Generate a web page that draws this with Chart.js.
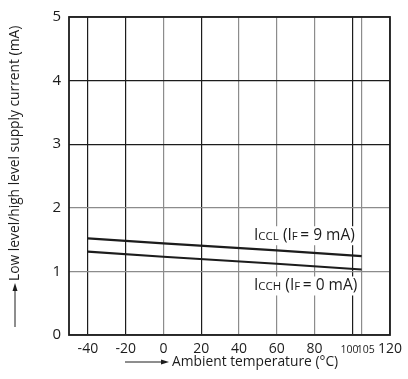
<!DOCTYPE html>
<html><head><meta charset="utf-8">
<script src="https://cdn.jsdelivr.net/npm/chart.js@4"></script>
<style>html,body{margin:0;padding:0;background:#fff}canvas{display:block}</style>
</head><body>
<canvas id="c" width="408" height="379"></canvas>
<script>
// ---- data ----
const temperatures = [-40, 0, 60, 105];          // °C
const iccl = [1.52, 1.44, 1.33, 1.24];           // mA, IF = 9 mA
const icch = [1.31, 1.23, 1.12, 1.03];           // mA, IF = 0 mA
const xTickValues = [-40, -20, 0, 20, 40, 60, 80, 100, 105, 120];
const yTickValues = [0, 1, 2, 3, 4, 5];
const xAxisTitle = 'Ambient temperature (°C)';
const yAxisTitle = 'Low level/high level supply current (mA)';
const curveLabels = [
  {sub: 'CCL', cond: '9', at: [48, 1.49]},
  {sub: 'CCH', cond: '0', at: [48, 0.70]}
];

const FONT = '"Open Sans"';
const BLACK = '#1c1c1c', GREY = '#8c8c8c';
const darkX = [-40, -20, 20, 100];
const darkY = [3, 4];

const toPts = (xs, ys) => xs.map((x, i) => ({x, y: ys[i]}));

const framePlugin = {
  id: 'frame',
  afterDatasetsDraw(chart) {
    const {ctx, chartArea: a, scales} = chart;
    ctx.save();
    ctx.strokeStyle = BLACK; ctx.lineWidth = 1.8;
    ctx.strokeRect(a.left, a.top, a.right - a.left, a.bottom - a.top);
    // curve labels
    curveLabels.forEach(l => {
      const x0 = scales.x.getPixelForValue(l.at[0]);
      const y0 = scales.y.getPixelForValue(l.at[1]);
      const parts = [['I', 15.5], [l.sub, 11.5], [' (', 15.5], ['I', 15.5], ['F', 11.5], ['\u2009= ' + l.cond + ' mA)', 15.5]];
      let w = 0;
      parts.forEach(p => { ctx.font = p[1] + 'px ' + FONT; w += ctx.measureText(p[0]).width; });
      ctx.fillStyle = '#fff';
      ctx.fillRect(x0 - 2, y0 - 14, w + 4, 19);
      ctx.fillStyle = BLACK; ctx.textBaseline = 'alphabetic'; ctx.textAlign = 'left';
      let x = x0;
      parts.forEach(p => { ctx.font = p[1] + 'px ' + FONT; ctx.fillText(p[0], x, y0); x += ctx.measureText(p[0]).width; });
    });
    ctx.restore();
  },
  afterDraw(chart) {
    const {ctx} = chart;
    ctx.save();
    ctx.fillStyle = BLACK; ctx.strokeStyle = BLACK; ctx.lineWidth = 1;
    // x title with arrow
    const ya = 362;
    ctx.beginPath(); ctx.moveTo(125, ya); ctx.lineTo(163, ya); ctx.stroke();
    ctx.beginPath(); ctx.moveTo(169, ya); ctx.lineTo(161, ya - 2.5); ctx.lineTo(161, ya + 2.5); ctx.closePath(); ctx.fill();
    ctx.font = '13.8px ' + FONT; ctx.textBaseline = 'middle'; ctx.textAlign = 'left';
    ctx.fillText(xAxisTitle, 172, ya);
    // y title with arrow
    ctx.translate(15, 281);
    ctx.rotate(-Math.PI / 2);
    ctx.beginPath(); ctx.moveTo(-46, 0); ctx.lineTo(-8, 0); ctx.stroke();
    ctx.beginPath(); ctx.moveTo(-2, 0); ctx.lineTo(-10, -2.5); ctx.lineTo(-10, 2.5); ctx.closePath(); ctx.fill();
    ctx.fillText(yAxisTitle, 0, 0);
    ctx.restore();
  }
};

new Chart(document.getElementById('c'), {
  type: 'line',
  data: {
    datasets: [
      {label: 'ICCL (IF = 9 mA)', data: toPts(temperatures, iccl), borderColor: BLACK, borderWidth: 2.2, pointRadius: 0, tension: 0},
      {label: 'ICCH (IF = 0 mA)', data: toPts(temperatures, icch), borderColor: BLACK, borderWidth: 2.2, pointRadius: 0, tension: 0}
    ]
  },
  options: {
    responsive: false, animation: false,
    layout: {padding: {top: 13, right: 16, left: 0, bottom: 0}},
    plugins: {legend: {display: false}, tooltip: {enabled: false}},
    scales: {
      x: {
        type: 'linear', min: -50, max: 120,
        afterBuildTicks: s => { s.ticks = xTickValues.map(v => ({value: v})); },
        afterFit: s => { s.height = 44; },
        grid: {drawTicks: false, lineWidth: 1.2,
          color: c => darkX.includes(c.tick && c.tick.value) ? BLACK : GREY},
        border: {display: false},
        ticks: {
          padding: 6, color: BLACK, maxRotation: 0, autoSkip: false,
          font: c => (c.tick && (c.tick.value === 100 || c.tick.value === 105))
            ? {family: 'Open Sans', size: 10.5, lineHeight: 1.65}
            : {family: 'Open Sans', size: 14, lineHeight: 1.2},
          callback: v => v === 100 ? '100  ' : v === 105 ? '   105' : String(v)
        }
      },
      y: {
        min: 0, max: 5,
        afterBuildTicks: s => { s.ticks = yTickValues.map(v => ({value: v})); },
        afterFit: s => { s.width = 69; },
        grid: {drawTicks: false, lineWidth: 1.2,
          color: c => darkY.includes(c.tick && c.tick.value) ? BLACK : GREY},
        border: {display: false},
        ticks: {padding: 8, color: BLACK, font: {family: 'Open Sans', size: 15}}
      }
    }
  },
  plugins: [framePlugin]
});
</script>
</body></html>
